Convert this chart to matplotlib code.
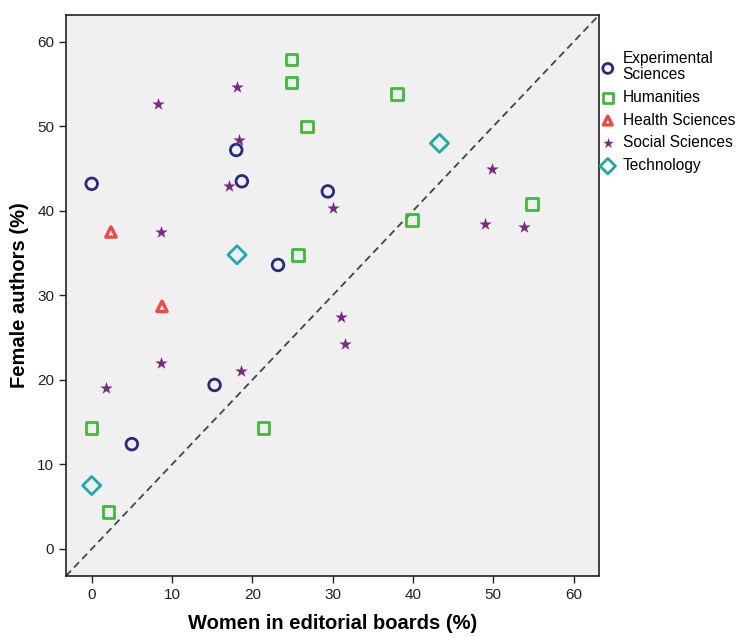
import numpy as np
import matplotlib
matplotlib.use("Agg")
import matplotlib.pyplot as plt

# Datos (% mujeres en consejos editoriales vs % autoras)
exp_x = [18.0, 0.0, 18.7, 29.4, 23.2, 15.3, 5.0]
exp_y = [47.2, 43.2, 43.5, 42.3, 33.6, 19.4, 12.4]

hum_x = [24.9, 24.9, 26.8, 38.0, 54.8, 39.9, 25.7, 0.0, 21.4, 2.1]
hum_y = [57.9, 55.2, 50.0, 53.8, 40.8, 38.9, 34.8, 14.3, 14.3, 4.4]

hea_x = [2.4, 8.75]
hea_y = [37.5, 28.7]

soc_x = [18.1, 8.3, 18.4, 17.1, 30.1, 8.6, 49.9, 49.0, 53.8, 8.6, 1.8, 18.6, 31.0, 31.5]
soc_y = [54.6, 52.6, 48.4, 42.9, 40.3, 37.5, 45.0, 38.5, 38.1, 22.0, 19.1, 21.0, 27.5, 24.3]

tec_x = [43.3, 18.1, 0.0]
tec_y = [48.0, 34.8, 7.5]

ticks = [0, 10, 20, 30, 40, 50, 60]
lim = (-3.2, 63.2)

plt.rcParams['font.family'] = ['Liberation Sans', 'DejaVu Sans']

fig = plt.figure(figsize=(7.48, 6.37), dpi=100)
ax = fig.add_axes([0.0882, 0.0958, 0.713, 0.881])
ax.set_facecolor('#f0f0f0')

ax.plot(lim, lim, color='#444444', linestyle=(0, (4, 2.5)), lw=1.3, zorder=1)

ax.scatter(exp_x, exp_y, s=70, marker='o', facecolors='none', edgecolors='#2a2a7c',
           linewidths=2, label='Experimental\nSciences', zorder=3)
ax.scatter(hum_x, hum_y, s=70, marker='s', facecolors='none', edgecolors='#3cba3c',
           linewidths=2, label='Humanities', zorder=3)
ax.scatter(hea_x, hea_y, s=55, marker='^', facecolors='none', edgecolors='#f04848',
           linewidths=2.4, label='Health Sciences', zorder=3)
ax.scatter(soc_x, soc_y, s=90, marker='*', color='#7b2a84', linewidths=0,
           label='Social Sciences', zorder=3)
ax.scatter(tec_x, tec_y, s=85, marker='D', facecolors='none', edgecolors='#1ea9a9',
           linewidths=2, label='Technology', zorder=3)

ax.set_xlim(lim)
ax.set_ylim(lim)
ax.set_xticks(ticks)
ax.set_yticks(ticks)
ax.tick_params(direction='out', length=5, width=1, labelsize=11, colors='#222222')
for s in ax.spines.values():
    s.set_color('#222222')
    s.set_linewidth(1.2)

ax.set_xlabel('Women in editorial boards (%)', fontsize=14.5, fontweight='bold', labelpad=9)
ax.set_ylabel('Female authors (%)', fontsize=14.5, fontweight='bold', labelpad=6)

leg = fig.legend(loc='upper left', bbox_to_anchor=(0.798, 0.925), frameon=False,
                 fontsize=11.2, handletextpad=0.45, labelspacing=0.5,
                 handlelength=1.0, borderaxespad=0.0, borderpad=0.2, markerscale=0.85)
for t in leg.get_texts():
    t.set_linespacing(1.1)

plt.savefig('out.png', dpi=100)
